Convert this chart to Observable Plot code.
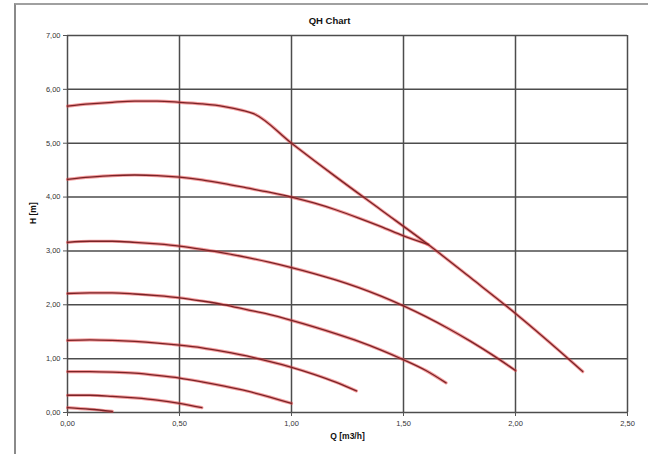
<!DOCTYPE html>
<html>
<head>
<meta charset="utf-8">
<script src="https://cdn.jsdelivr.net/npm/d3@7"></script>
<script src="https://cdn.jsdelivr.net/npm/@observablehq/plot@0.6"></script>
<style>
  html, body { margin: 0; padding: 0; background: #fff; }
  #wrap { position: relative; width: 656px; height: 454px; overflow: hidden; }
  #frame { position: absolute; left: 14px; top: 3px; width: 632px; height: 470px;
           border-top: 2px solid #a0a0a0; border-left: 2px solid #8a8a8a; pointer-events: none; }
  svg { font-family: "Liberation Sans", Arial, sans-serif; }
</style>
</head>
<body>
<div id="wrap"><div id="frame"></div></div>
<script>
const title = "QH Chart";
const xLabel = "Q [m3/h]";
const yLabel = "H [m]";
const xTicks = [0, 0.5, 1, 1.5, 2, 2.5];
const yTicks = [0, 1, 2, 3, 4, 5, 6, 7];

const q1 = [0, 0.1, 0.2, 0.3, 0.4, 0.5, 0.6, 0.7, 0.78, 0.83, 1.0, 1.2, 1.4, 1.6, 1.8, 2.0, 2.2, 2.3];
const h1 = [5.69, 5.73, 5.76, 5.78, 5.78, 5.76, 5.73, 5.68, 5.61, 5.55, 5.0, 4.37, 3.76, 3.15, 2.50, 1.84, 1.13, 0.76];
const q2 = [0, 0.1, 0.2, 0.3, 0.4, 0.5, 0.6, 0.7, 0.8, 0.9, 1.0, 1.1, 1.2, 1.3, 1.4, 1.5, 1.61];
const h2 = [4.33, 4.37, 4.40, 4.41, 4.40, 4.37, 4.32, 4.25, 4.17, 4.09, 4.0, 3.89, 3.76, 3.61, 3.45, 3.28, 3.12];
const q3 = [0, 0.1, 0.2, 0.3, 0.4, 0.5, 0.6, 0.7, 0.8, 0.9, 1.0, 1.1, 1.2, 1.3, 1.4, 1.5, 1.6, 1.7, 1.8, 1.9, 2.0];
const h3 = [3.16, 3.18, 3.18, 3.16, 3.13, 3.09, 3.03, 2.96, 2.88, 2.79, 2.69, 2.58, 2.46, 2.32, 2.16, 1.98, 1.78, 1.56, 1.32, 1.06, 0.78];
const q4 = [0, 0.1, 0.2, 0.3, 0.4, 0.5, 0.6, 0.7, 0.8, 0.9, 1.0, 1.1, 1.2, 1.3, 1.4, 1.5, 1.6, 1.69];
const h4 = [2.21, 2.22, 2.22, 2.20, 2.17, 2.13, 2.07, 2.00, 1.91, 1.82, 1.71, 1.59, 1.46, 1.32, 1.16, 0.98, 0.78, 0.55];
const q5 = [0, 0.1, 0.2, 0.3, 0.4, 0.5, 0.6, 0.7, 0.8, 0.9, 1.0, 1.1, 1.2, 1.29];
const h5 = [1.34, 1.35, 1.34, 1.32, 1.29, 1.25, 1.20, 1.13, 1.05, 0.95, 0.84, 0.71, 0.56, 0.40];
const q6 = [0, 0.1, 0.2, 0.3, 0.4, 0.5, 0.6, 0.7, 0.8, 0.9, 1.0];
const h6 = [0.76, 0.76, 0.75, 0.73, 0.69, 0.64, 0.57, 0.49, 0.40, 0.29, 0.17];
const q7 = [0, 0.1, 0.2, 0.3, 0.4, 0.5, 0.6];
const h7 = [0.32, 0.32, 0.30, 0.27, 0.23, 0.17, 0.09];
const q8 = [0, 0.1, 0.2];
const h8 = [0.09, 0.06, 0.02];

const curves = [[q1, h1], [q2, h2], [q3, h3], [q4, h4], [q5, h5], [q6, h6], [q7, h7], [q8, h8]];
const data = curves.flatMap(([qs, hs], i) => qs.map((q, j) => ({curve: i + 1, q, h: hs[j]})));

const fmt = d => d3.format(".2f")(d).replace(".", ",");

const chart = Plot.plot({
  width: 656,
  height: 454,
  marginLeft: 67,
  marginRight: 29,
  marginTop: 35,
  marginBottom: 42,
  style: {fontFamily: "Liberation Sans, Arial, sans-serif", background: "transparent"},
  x: {domain: [0, 2.5]},
  y: {domain: [0, 7]},
  marks: [
    Plot.gridX(xTicks, {stroke: "#4d4d4d", strokeOpacity: 1, strokeWidth: 1.5}),
    Plot.gridY(yTicks, {stroke: "#4d4d4d", strokeOpacity: 1, strokeWidth: 1.5}),
    Plot.axisX({ticks: xTicks, tickFormat: fmt, tickSize: 4, tickPadding: 4, label: null,
                fontSize: 7.5, fill: "#333", stroke: "#555"}),
    Plot.axisY({ticks: yTicks, tickFormat: fmt, tickSize: 4, tickPadding: 3, label: null,
                fontSize: 7.5, fill: "#333", stroke: "#555"}),
    Plot.line(data, {x: "q", y: "h", z: "curve", curve: "monotone-x",
                     stroke: "#e8383a", strokeOpacity: 0.5, strokeWidth: 3.2}),
    Plot.line(data, {x: "q", y: "h", z: "curve", curve: "monotone-x",
                     stroke: "#7a2326", strokeWidth: 1.3}),
    Plot.text([title], {frameAnchor: "top", dy: -18, dx: -18, fontSize: 9.5, fontWeight: "bold", fill: "#111"}),
    Plot.text([xLabel], {frameAnchor: "bottom", dy: 26, fontSize: 8.5, fontWeight: "bold", fill: "#111"}),
    Plot.text([yLabel], {frameAnchor: "left", dx: -34, rotate: -90, fontSize: 8.5, fontWeight: "bold", fill: "#111"})
  ]
});
document.getElementById("wrap").prepend(chart);
</script>
</body>
</html>
